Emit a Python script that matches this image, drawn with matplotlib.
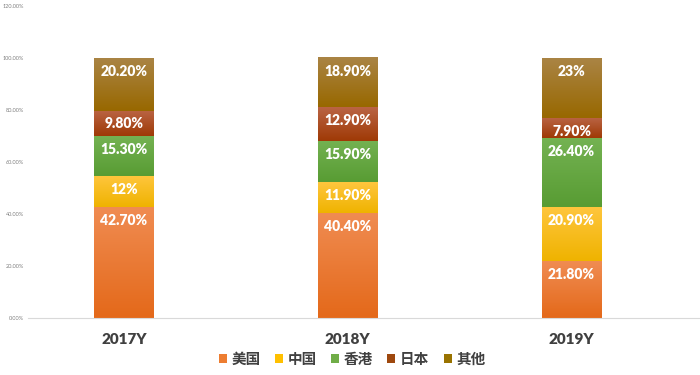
import numpy as np
import matplotlib
matplotlib.use("Agg")
import matplotlib.pyplot as plt
from matplotlib.colors import LinearSegmentedColormap
from matplotlib.patches import Patch

plt.rcParams['font.family'] = ['Noto Sans CJK SC', 'DejaVu Sans']

years = ["2017Y", "2018Y", "2019Y"]
regions = ["美国", "中国", "香港", "日本", "其他"]
us = [42.7, 40.4, 21.8]
cn = [12.0, 11.9, 20.9]
hk = [15.3, 15.9, 26.4]
jp = [9.8, 12.9, 7.9]
other = [20.2, 18.9, 23.0]
labels = [
    ["42.70%", "40.40%", "21.80%"],
    ["12%", "11.90%", "20.90%"],
    ["15.30%", "15.90%", "26.40%"],
    ["9.80%", "12.90%", "7.90%"],
    ["20.20%", "18.90%", "23%"],
]
series = [us, cn, hk, jp, other]

# gradient (top, bottom) per series, plus a flat colour for the legend
grad = [
    ("#F08C52", "#E4691A"),
    ("#FFC63E", "#EFB300"),
    ("#74B252", "#589C33"),
    ("#BA6444", "#9F3A06"),
    ("#AA8444", "#986800"),
]
legend_colors = ["#ED7D31", "#FFC000", "#70AD47", "#9E480E", "#997300"]

fig = plt.figure(figsize=(7, 3.75), dpi=100)
ax = fig.add_axes([28 / 700, 1 - 318 / 375, 672 / 700, 312 / 375])

bar_w = 0.268
x = np.arange(len(years))
bottom = np.zeros(len(years))
grad_img = np.linspace(0, 1, 64).reshape(-1, 1)

for vals, (top_c, bot_c), labs in zip(series, grad, labels):
    cmap = LinearSegmentedColormap.from_list("g", [bot_c, top_c])
    for i, v in enumerate(vals):
        b = bottom[i]
        ax.imshow(grad_img, cmap=cmap, origin="lower", aspect="auto",
                  extent=(x[i] - bar_w / 2, x[i] + bar_w / 2, b, b + v),
                  interpolation="bilinear", zorder=2)
        ax.annotate(labs[i], (x[i], b + v), xytext=(0, -9.6),
                    textcoords="offset points", ha="center", va="center",
                    color="white", fontsize=10, fontweight="heavy",
                    family=["Lato", "DejaVu Sans"], zorder=3)
    bottom += np.array(vals)

ax.set_xlim(-0.429, 2.574)
ax.set_ylim(0, 120)
ax.set_yticks(np.arange(0, 121, 20))
ax.set_yticklabels([f"{t:.2f}%" for t in range(0, 121, 20)],
                   fontsize=4.0, color="#808080", family=["Lato", "DejaVu Sans"])
ax.set_xticks(x)
ax.set_xticklabels(years, fontsize=11, fontweight="heavy", color="#404040",
                   family=["Lato", "DejaVu Sans"])
ax.tick_params(axis="both", length=0)
ax.tick_params(axis="y", pad=3)
ax.tick_params(axis="x", pad=11)
for s in ["top", "right", "left"]:
    ax.spines[s].set_visible(False)
ax.spines["bottom"].set_color("#D9D9D9")
ax.spines["bottom"].set_linewidth(0.8)

handles = [Patch(facecolor=c, edgecolor="none") for c in legend_colors]
fig.legend(handles, regions, loc="center", bbox_to_anchor=(352 / 700, 1 - 359 / 375),
           ncol=5, frameon=False, handlelength=0.55, handleheight=0.55,
           handletextpad=0.3, columnspacing=1.0, labelcolor="#404040",
           prop={"family": ["Noto Sans CJK SC", "DejaVu Sans"], "size": 10.5,
                 "weight": "bold"})

fig.savefig("out.png", dpi=100)
